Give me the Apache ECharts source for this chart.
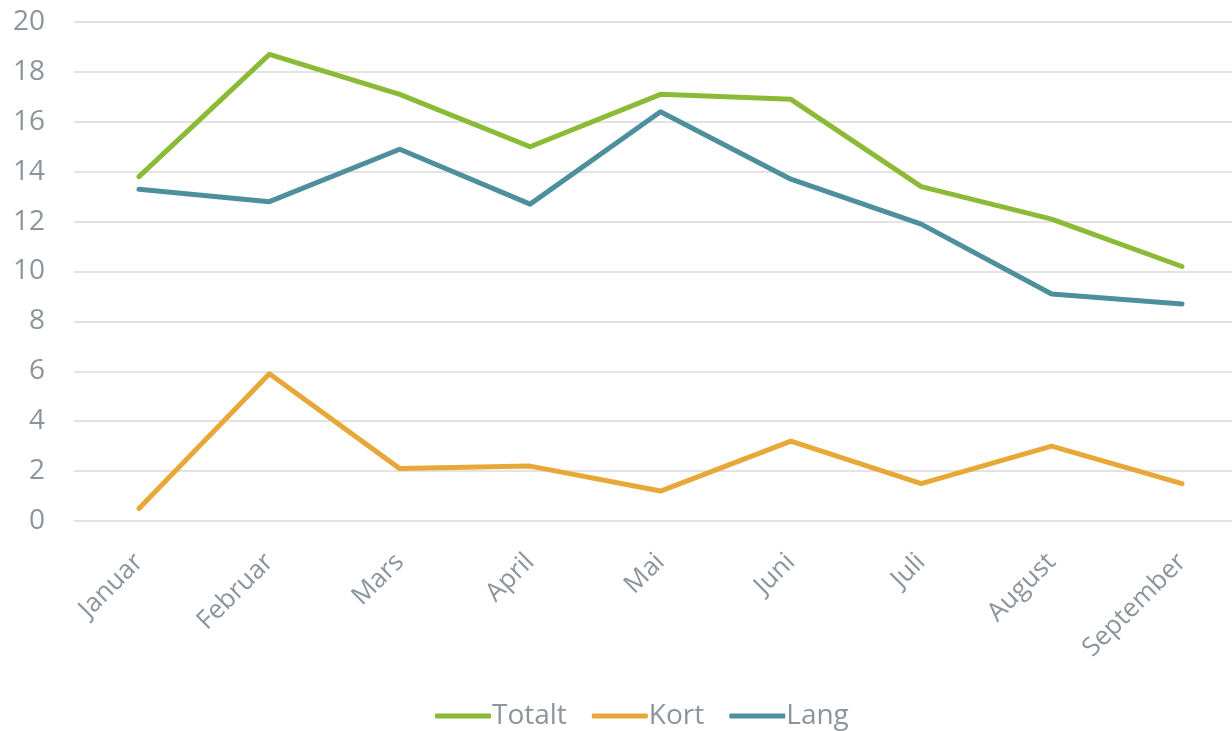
<!DOCTYPE html>
<html><head><meta charset="utf-8">
<script src="https://cdn.jsdelivr.net/npm/echarts@6/dist/echarts.min.js"></script>
<style>html,body{margin:0;padding:0;background:#fff}#c{width:1232px;height:731px}</style>
</head><body><div id="c"></div>
<script>
const categories = ['Januar','Februar','Mars','April','Mai','Juni','Juli','August','September'];
const totalt = [13.8, 18.7, 17.1, 15.0, 17.1, 16.9, 13.4, 12.1, 10.2];
const kort = [0.5, 5.9, 2.1, 2.2, 1.2, 3.2, 1.5, 3.0, 1.5];
const lang = [13.3, 12.8, 14.9, 12.7, 16.4, 13.7, 11.9, 9.1, 8.7];
const yTicks = [0, 2, 4, 6, 8, 10, 12, 14, 16, 18, 20];

const textColor = '#8b959b';
const font = 'Open Sans';
const chart = echarts.init(document.getElementById('c'));
function s(name, data, color) {
  return { name, type: 'line', data, xAxisIndex: 1, yAxisIndex: 1, symbol: 'none',
    lineStyle: { color, width: 5, cap: 'round', join: 'round' }, itemStyle: { color } };
}
const yMin = yTicks[0], yMax = yTicks[yTicks.length - 1];
chart.setOption({
  animation: false,
  grid: [
    { left: 74, right: 0, top: 22, height: 499 },
    { left: 139, width: 1043, top: 22, height: 499 }
  ],
  legend: {
    top: 697, left: 430, itemWidth: 56, itemHeight: 5, itemGap: 25,
    icon: 'roundRect',
    textStyle: { color: textColor, fontSize: 28, fontFamily: font, padding: [0, 0, 0, -4] },
    data: ['Totalt', 'Kort', 'Lang']
  },
  xAxis: [
    { type: 'value', gridIndex: 0, show: false, min: 0, max: 1, splitLine: { show: false } },
    { type: 'category', gridIndex: 1, data: categories, boundaryGap: false,
      axisLine: { show: false }, axisTick: { show: false }, splitLine: { show: false },
      axisLabel: { rotate: 45, color: textColor, fontSize: 26, fontFamily: font, margin: 37, interval: 0 } }
  ],
  yAxis: [
    { type: 'value', gridIndex: 0, min: yMin, max: yMax, interval: 2,
      axisLine: { show: false }, axisTick: { show: false },
      axisLabel: { color: textColor, fontSize: 28, fontFamily: font, margin: 29 },
      splitLine: { lineStyle: { color: '#e3e3e3', width: 2 } } },
    { type: 'value', gridIndex: 1, min: yMin, max: yMax, interval: 2, show: false, splitLine: { show: false } }
  ],
  series: [s('Totalt', totalt, '#8aba36'), s('Kort', kort, '#e8a838'), s('Lang', lang, '#4e8f9d')]
});
</script></body></html>
